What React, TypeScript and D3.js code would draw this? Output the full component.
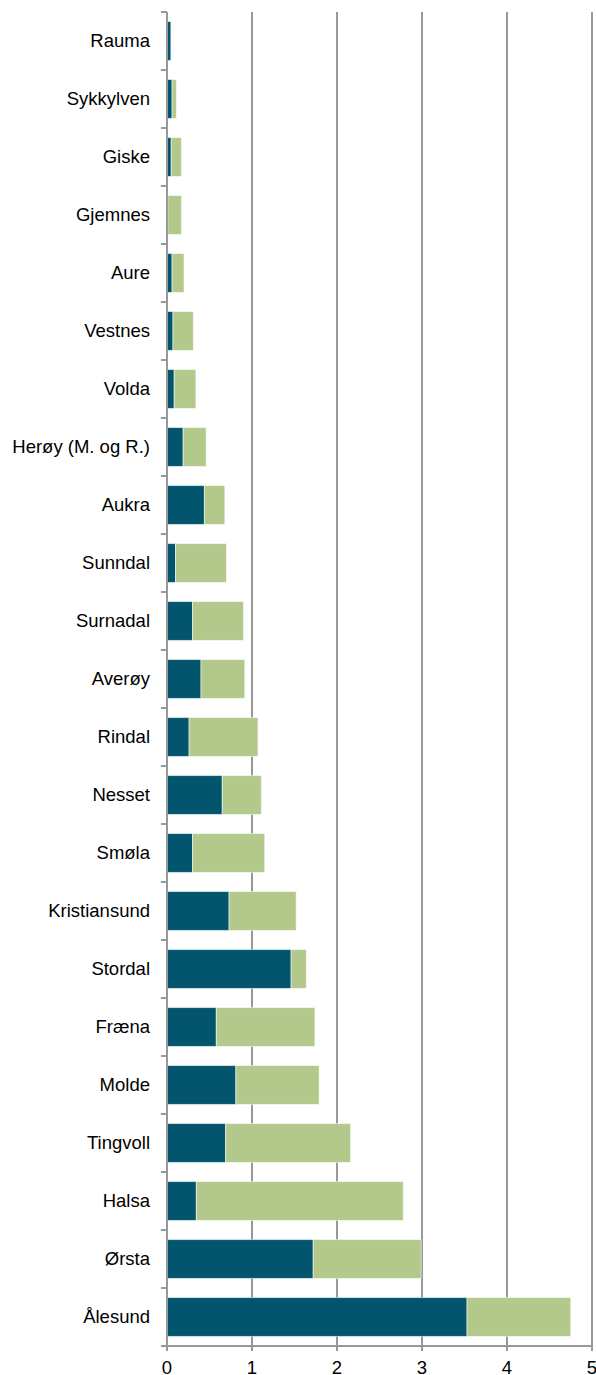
import { useEffect, useRef } from 'react';
import * as d3 from 'd3';

const categories = [
  'Rauma', 'Sykkylven', 'Giske', 'Gjemnes', 'Aure', 'Vestnes', 'Volda',
  'Herøy (M. og R.)', 'Aukra', 'Sunndal', 'Surnadal', 'Averøy', 'Rindal',
  'Nesset', 'Smøla', 'Kristiansund', 'Stordal', 'Fræna', 'Molde',
  'Tingvoll', 'Halsa', 'Ørsta', 'Ålesund',
];
const darkValues = [
  0.045, 0.06, 0.05, 0.01, 0.06, 0.07, 0.085,
  0.19, 0.44, 0.1, 0.3, 0.4, 0.26,
  0.65, 0.3, 0.73, 1.46, 0.58, 0.81,
  0.69, 0.345, 1.72, 3.53,
];
const lightValues = [
  0.0, 0.05, 0.12, 0.16, 0.14, 0.24, 0.255,
  0.27, 0.24, 0.6, 0.6, 0.515, 0.81,
  0.46, 0.85, 0.79, 0.18, 1.16, 0.98,
  1.47, 2.435, 1.27, 1.22,
];
const xTicks = [0, 1, 2, 3, 4, 5];
const seriesKeys = ['dark', 'light'];
const seriesColors = ['#02556d', '#b3c98c'];

export default function App() {
  const svgRef = useRef<SVGSVGElement>(null);

  useEffect(() => {
    if (!svgRef.current) return;
    const svg = d3.select(svgRef.current);
    svg.selectAll('*').remove();

    const left = 167;
    const right = 592;
    const top = 12;
    const bottom = 1346;

    const rows = categories.map((c, i) => ({ cat: c, dark: darkValues[i], light: lightValues[i] }));

    const x = d3.scaleLinear().domain([0, 5]).range([left, right]);
    const y = d3.scaleBand().domain(categories).range([top, bottom]).paddingInner(0.33).paddingOuter(0.165);
    const color = d3.scaleOrdinal<string, string>().domain(seriesKeys).range(seriesColors);

    const font = 'Liberation Sans, Arial, sans-serif';
    const fontSize = 18.5;

    // gridlines
    svg.append('g')
      .selectAll('line')
      .data(xTicks.slice(1))
      .join('line')
      .attr('x1', d => x(d))
      .attr('x2', d => x(d))
      .attr('y1', top)
      .attr('y2', bottom)
      .attr('stroke', '#989898')
      .attr('stroke-width', 2);

    const stack = d3.stack<any>().keys(seriesKeys);
    const layers = stack(rows);

    svg.append('g')
      .selectAll('g')
      .data(layers)
      .join('g')
      .attr('fill', d => color(d.key))
      .selectAll('rect')
      .data(d => d)
      .join('rect')
      .attr('x', d => x(d[0]))
      .attr('y', d => y(d.data.cat)!)
      .attr('width', d => Math.max(0, x(d[1]) - x(d[0])))
      .attr('height', y.bandwidth())
      .attr('stroke', 'rgba(255,255,255,0.55)')
      .attr('stroke-width', 1);

    // left axis
    const step = (bottom - top) / categories.length;
    const axisG = svg.append('g');
    axisG.append('line')
      .attr('x1', left).attr('x2', left)
      .attr('y1', top).attr('y2', bottom)
      .attr('stroke', '#989898').attr('stroke-width', 2);
    axisG.selectAll('line.tick')
      .data(d3.range(categories.length + 1))
      .join('line')
      .attr('class', 'tick')
      .attr('x1', left - 6).attr('x2', left)
      .attr('y1', i => top + i * step)
      .attr('y2', i => top + i * step)
      .attr('stroke', '#989898').attr('stroke-width', 2);
    axisG.selectAll('text')
      .data(categories)
      .join('text')
      .attr('x', 150)
      .attr('y', d => y(d)! + y.bandwidth() / 2)
      .attr('dy', '0.35em')
      .attr('text-anchor', 'end')
      .attr('font-family', font)
      .attr('font-size', fontSize)
      .attr('fill', '#000')
      .text(d => d);

    // bottom axis
    const bAxis = svg.append('g');
    bAxis.append('line')
      .attr('x1', left - 6).attr('x2', right + 1)
      .attr('y1', bottom).attr('y2', bottom)
      .attr('stroke', '#989898').attr('stroke-width', 2);
    bAxis.selectAll('line.tick')
      .data(xTicks)
      .join('line')
      .attr('class', 'tick')
      .attr('x1', d => x(d)).attr('x2', d => x(d))
      .attr('y1', bottom).attr('y2', bottom + 5)
      .attr('stroke', '#989898').attr('stroke-width', 2);
    bAxis.selectAll('text')
      .data(xTicks)
      .join('text')
      .attr('x', d => x(d))
      .attr('y', bottom + 22)
      .attr('dy', '0.35em')
      .attr('text-anchor', 'middle')
      .attr('font-family', font)
      .attr('font-size', fontSize)
      .attr('fill', '#000')
      .text(d => String(d));
  }, []);

  return (
    <svg
      ref={svgRef}
      width={596}
      height={1375}
      style={{ position: 'absolute', left: 0, top: 0, display: 'block', background: '#fff' }}
    />
  );
}
